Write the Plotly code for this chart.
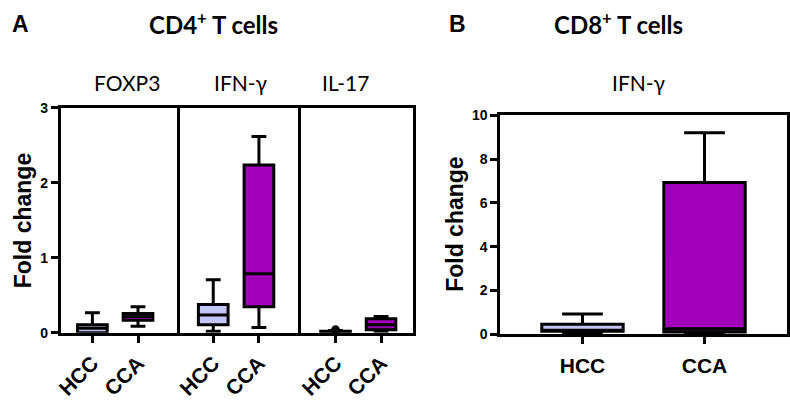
import plotly.graph_objects as go

# ---------------- data ----------------
categories = ["HCC", "CCA"]
cd4_markers = ["FOXP3", "IFN-γ", "IL-17"]

foxp3_q1 = [0.00, 0.17]
foxp3_median = [0.06, 0.22]
foxp3_q3 = [0.11, 0.26]
foxp3_lower = [0.00, 0.09]
foxp3_upper = [0.27, 0.35]

ifng4_q1 = [0.11, 0.35]
ifng4_median = [0.24, 0.79]
ifng4_q3 = [0.38, 2.24]
ifng4_lower = [0.02, 0.07]
ifng4_upper = [0.71, 2.62]

il17_q1 = [0.00, 0.04]
il17_median = [0.01, 0.11]
il17_q3 = [0.02, 0.19]
il17_lower = [0.00, 0.02]
il17_upper = [0.03, 0.22]
il17_hcc_outlier = [0.04]

ifng8_q1 = [0.13, 0.10]
ifng8_median = [0.15, 0.25]
ifng8_q3 = [0.45, 6.93]
ifng8_lower = [0.00, 0.05]
ifng8_upper = [0.92, 9.20]

cd4_ticks = [0, 1, 2, 3]
cd8_ticks = [0, 2, 4, 6, 8, 10]

# ---------------- style ----------------
W, H = 790, 412
colors = {"HCC": "#C4C4F6", "CCA": "#A000B8"}
LW = 3

def px(x):
    return x / W

def py(y):
    return 1 - y / H

fig = go.Figure()

cd4_sets = [
    (foxp3_q1, foxp3_median, foxp3_q3, foxp3_lower, foxp3_upper),
    (ifng4_q1, ifng4_median, ifng4_q3, ifng4_lower, ifng4_upper),
    (il17_q1, il17_median, il17_q3, il17_lower, il17_upper),
]

for k, (q1, med, q3, lo, up) in enumerate(cd4_sets):
    xa = "x" if k == 0 else f"x{k+1}"
    ya = "y" if k == 0 else f"y{k+1}"
    for i, cat in enumerate(categories):
        fig.add_trace(go.Box(
            x=[cat], q1=[q1[i]], median=[med[i]], q3=[q3[i]],
            lowerfence=[lo[i]], upperfence=[up[i]],
            width=0.65, whiskerwidth=0.5,
            fillcolor=colors[cat], line=dict(color="black", width=LW),
            boxpoints=False, showlegend=False, xaxis=xa, yaxis=ya,
        ))

fig.add_trace(go.Scatter(
    x=[categories[0]], y=il17_hcc_outlier, mode="markers",
    marker=dict(color="black", size=9), showlegend=False,
    xaxis="x3", yaxis="y3", cliponaxis=False,
))

for i, cat in enumerate(categories):
    fig.add_trace(go.Box(
        x=[cat], q1=[ifng8_q1[i]], median=[ifng8_median[i]], q3=[ifng8_q3[i]],
        lowerfence=[ifng8_lower[i]], upperfence=[ifng8_upper[i]],
        width=0.667, whiskerwidth=0.5,
        fillcolor=colors[cat], line=dict(color="black", width=LW),
        boxpoints=False, showlegend=False, xaxis="x4", yaxis="y4",
    ))

tickfont_y = dict(family="Liberation Sans, Arial", size=14, color="black", weight="bold")
tickfont_x = dict(family="Liberation Sans, Arial", size=21, color="black", weight="bold")

common_x = dict(showline=True, linecolor="black", linewidth=2.5, mirror=True,
                showgrid=False, zeroline=False, ticks="outside", ticklen=7,
                tickwidth=2.5, tickcolor="black", type="category",
                tickfont=tickfont_x)
common_y = dict(showline=True, linecolor="black", linewidth=2.5,
                showgrid=False, zeroline=False, tickcolor="black",
                tickwidth=2.5, ticklen=7, tickfont=tickfont_y)

a_top, a_bot = py(104), py(338)
b_top, b_bot = py(111.7), py(339.3)
a_edges = [55, 172, 294, 410]
a_ranges = [[-0.697, 1.848], [-0.80, 1.85], [-0.83, 1.70]]

layout = dict(
    width=W, height=H, margin=dict(l=0, r=0, t=0, b=0),
    paper_bgcolor="white", plot_bgcolor="white",
)
for k in range(3):
    xn = "xaxis" if k == 0 else f"xaxis{k+1}"
    yn = "yaxis" if k == 0 else f"yaxis{k+1}"
    layout[xn] = dict(common_x, domain=[px(a_edges[k]), px(a_edges[k+1])],
                      range=a_ranges[k], anchor="y" if k == 0 else f"y{k+1}",
                      tickangle=-45)
    ydict = dict(common_y, domain=[a_bot, a_top], range=[0, 3],
                 anchor="x" if k == 0 else f"x{k+1}")
    if k == 0:
        ydict.update(ticks="outside", tickvals=cd4_ticks, mirror=True)
    else:
        ydict.update(ticks="", showticklabels=False, side="right", mirror=False)
    layout[yn] = ydict

layout["xaxis4"] = dict(common_x, domain=[px(498), px(787)],
                        range=[-0.674, 1.676], anchor="y4", tickangle=0,
                        ticklabelstandoff=4)
layout["yaxis4"] = dict(common_y, domain=[b_bot, b_top], range=[0, 10],
                        anchor="x4", ticks="outside", tickvals=cd8_ticks, mirror=True)

fig.update_layout(**layout)

title_font = dict(family="Lato", size=24, color="black", weight="bold")
label_font = dict(family="Lato", size=21, color="black")
letter_font = dict(family="Liberation Sans, Arial", size=23, color="black", weight="bold")
axis_title_font = dict(family="Liberation Sans, Arial", size=23, color="black", weight="bold")

def ann(text, x, y, font, angle=0, xanchor="center"):
    fig.add_annotation(text=text, x=px(x), y=py(y), xref="paper", yref="paper",
                       showarrow=False, font=font, textangle=angle,
                       xanchor=xanchor, yanchor="middle")

ann("A", 15, 17, letter_font)
ann("CD4<sup>+</sup> T cells", 209, 16, title_font)
ann("FOXP3", 122, 77, label_font)
ann("IFN-γ", 237, 77, label_font)
ann("IL-17", 342, 77, label_font)
ann("Fold change", 18, 221, axis_title_font, angle=-90)

ann("B", 455, 17, letter_font)
ann("CD8<sup>+</sup> T cells", 617, 16, title_font)
ann("IFN-γ", 638, 77, label_font)
ann("Fold change", 453, 225, axis_title_font, angle=-90)

fig.write_html("out.html", config={"displayModeBar": False},
               post_script="document.body.style.margin='0';document.body.style.overflow='hidden';")
